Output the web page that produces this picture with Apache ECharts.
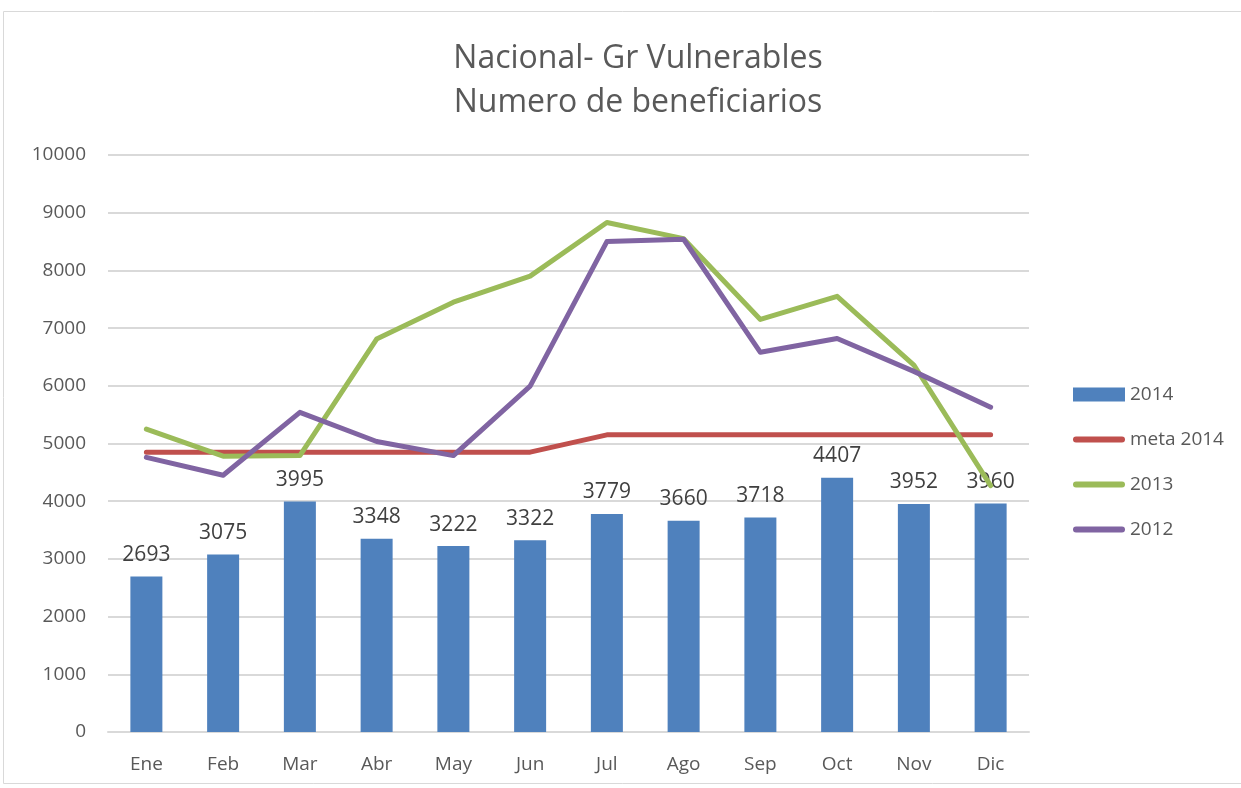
<!DOCTYPE html>
<html>
<head>
<meta charset="utf-8">
<script src="https://cdn.jsdelivr.net/npm/echarts@6/dist/echarts.min.js"></script>
<style>
html, body { margin: 0; padding: 0; background: #fff; }
#chart { width: 1241px; height: 788px; }
</style>
</head>
<body>
<div id="chart"></div>
<script>
const months = ['Ene', 'Feb', 'Mar', 'Abr', 'May', 'Jun', 'Jul', 'Ago', 'Sep', 'Oct', 'Nov', 'Dic'];
const val2014 = [2693, 3075, 3995, 3348, 3222, 3322, 3779, 3660, 3718, 4407, 3952, 3960];
const meta2014 = [4850, 4850, 4850, 4850, 4850, 4850, 5150, 5150, 5150, 5150, 5150, 5150];
const val2013 = [5250, 4780, 4790, 6810, 7450, 7900, 8830, 8550, 7150, 7550, 6360, 4270];
const val2012 = [4760, 4450, 5540, 5035, 4790, 5995, 8500, 8540, 6580, 6820, 6250, 5630];
const yTicks = { min: 0, max: 10000, interval: 1000 };

const font = 'Open Sans, Noto Sans, sans-serif';
// thin rounded bar inside a 52x14 box, for the line entries of the legend
const lineIcon = 'path://M0,0M52,14M3,4L49,4A3,3 0 0 1 49,10L3,10A3,3 0 0 1 3,4Z';

const chart = echarts.init(document.getElementById('chart'));

const lineSeries = (name, data, color) => ({
  name: name,
  type: 'line',
  data: data,
  symbol: 'none',
  lineStyle: { width: 5, color: color, cap: 'round', join: 'round' },
  itemStyle: { color: color },
  z: 3
});

chart.setOption({
  animation: false,
  textStyle: { fontFamily: font },
  title: {
    text: 'Nacional- Gr Vulnerables\nNumero de beneficiarios',
    left: 633,
    textAlign: 'center',
    top: 32,
    textStyle: { fontSize: 32, fontWeight: 'normal', color: '#595959', lineHeight: 44, fontFamily: font }
  },
  graphic: [{
    type: 'rect',
    shape: { x: 3.5, y: 11.5, width: 1250, height: 772 },
    style: { fill: 'none', stroke: '#d9d9d9', lineWidth: 1 },
    silent: true
  }],
  legend: {
    orient: 'vertical',
    left: 1068,
    top: 380,
    itemGap: 26,
    itemWidth: 52,
    itemHeight: 14,
    textStyle: { fontSize: 19, color: '#595959', fontFamily: font },
    data: [
      { name: '2014', icon: 'rect' },
      { name: 'meta 2014', icon: lineIcon },
      { name: '2013', icon: lineIcon },
      { name: '2012', icon: lineIcon }
    ]
  },
  grid: { left: 108, right: 212, top: 155, bottom: 56 },
  xAxis: {
    type: 'category',
    data: months,
    axisLine: { lineStyle: { color: '#d9d9d9', width: 2 } },
    axisTick: { show: false },
    axisLabel: { fontSize: 19, color: '#595959', margin: 23, fontFamily: font }
  },
  yAxis: {
    type: 'value',
    min: yTicks.min,
    max: yTicks.max,
    interval: yTicks.interval,
    axisLine: { show: false },
    axisTick: { show: false },
    splitLine: { lineStyle: { color: '#d9d9d9', width: 2 } },
    axisLabel: { fontSize: 19, color: '#595959', margin: 22, fontFamily: font, formatter: v => String(v) }
  },
  series: [
    {
      name: '2014',
      type: 'bar',
      data: val2014,
      barWidth: 32,
      itemStyle: { color: '#4f81bd' },
      label: {
        show: true,
        position: 'top',
        distance: 11,
        fontSize: 21,
        color: '#404040',
        fontFamily: font
      },
      z: 2
    },
    lineSeries('meta 2014', meta2014, '#c0504d'),
    lineSeries('2013', val2013, '#9bbb59'),
    lineSeries('2012', val2012, '#8064a2')
  ]
});
</script>
</body>
</html>
